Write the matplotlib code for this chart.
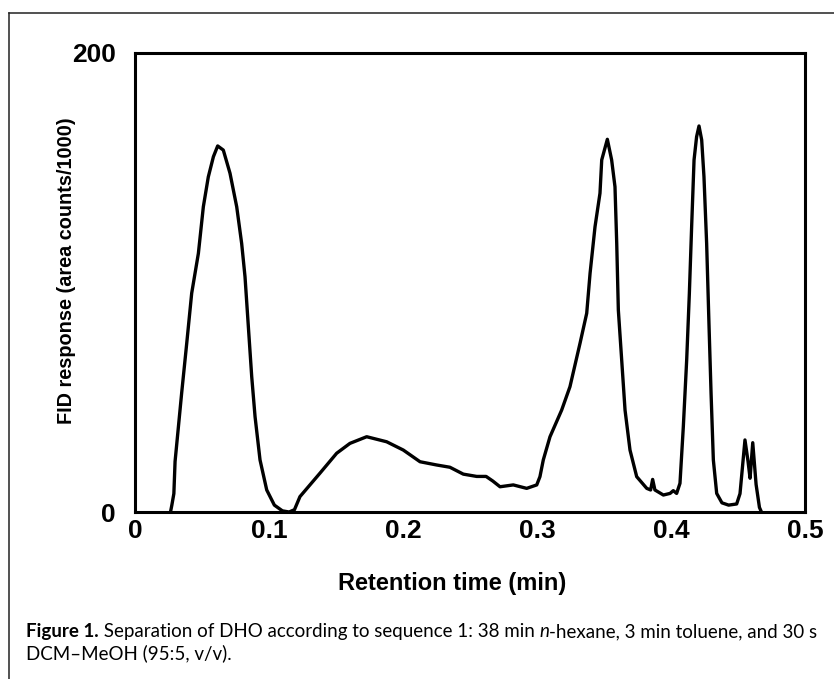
import numpy as np
import matplotlib.pyplot as plt
from matplotlib.lines import Line2D

# retention time (min) and FID response (area counts/1000)
time_min = [0.0265, 0.0275, 0.029, 0.0299, 0.0348, 0.0386, 0.0423, 0.0473, 0.051, 0.0547,
            0.0585, 0.0617, 0.0659, 0.0709, 0.0759, 0.0796, 0.0821, 0.0846, 0.0871, 0.0896,
            0.0933, 0.0983, 0.104, 0.11, 0.115, 0.119, 0.1231, 0.138, 0.1505, 0.1604,
            0.1729, 0.1878, 0.2002, 0.2127, 0.225, 0.235, 0.245, 0.255, 0.262, 0.267,
            0.2724, 0.2823, 0.2923, 0.2998, 0.3022, 0.3047, 0.3097, 0.3184, 0.3246, 0.3321,
            0.3371, 0.3396, 0.3433, 0.347, 0.3483, 0.3525, 0.3557, 0.3582, 0.3595, 0.3607,
            0.3632, 0.3657, 0.3694, 0.3744, 0.3819, 0.3848, 0.3863, 0.388, 0.3943, 0.3993,
            0.4017, 0.4042, 0.4067, 0.4092, 0.4117, 0.4137, 0.4154, 0.4172, 0.4191, 0.4209,
            0.4229, 0.4246, 0.4266, 0.4284, 0.4299, 0.4316, 0.4341, 0.438, 0.443, 0.449,
            0.4515, 0.4552, 0.4575, 0.459, 0.461, 0.4635, 0.466, 0.4675]
response = [0, 3, 8, 22, 51.7, 73.5, 95.3, 112.7, 133, 146,
            154.8, 159.5, 157.7, 147.6, 133, 117, 102.5, 80.7, 59, 41.5,
            22.7, 9.6, 3, 0.5, 0, 1, 6.7, 16.9, 25.6, 29.9,
            32.8, 30.6, 27, 21.9, 20.5, 19.5, 16.5, 15.5, 15.5, 13.5,
            11, 11.8, 10.3, 11.8, 15.4, 22.7, 32.8, 44.4, 54.6, 73.5,
            86.6, 104, 124.3, 138.9, 153.4, 162.4, 153.4, 141.7, 117, 88,
            66.2, 44.4, 27, 15.4, 10.3, 9.6, 14.2, 9.6, 7.4, 8.1,
            9.3, 8.1, 12.5, 37.2, 66.2, 95.3, 124.3, 153.4, 163.5, 168.2,
            162.1, 146.1, 117, 80.7, 51.7, 22.7, 8.1, 4, 3, 3.5,
            8, 31.4, 22, 14.7, 30.2, 12, 2, 0]

x_ticks = [0, 0.1, 0.2, 0.3, 0.4, 0.5]
x_ticklabels = ['0', '0.1', '0.2', '0.3', '0.4', '0.5']
y_ticks = [0, 200]

W, H = 834, 679
fig = plt.figure(figsize=(W / 100, H / 100), dpi=100)
ax = fig.add_axes([135 / W, 1 - 512 / H, 670 / W, 459 / H])

ax.plot(time_min, response, color='black', lw=2.4, solid_joinstyle='round')
ax.set_xlim(0, 0.5)
ax.set_ylim(0, 200)

ax.set_xticks(x_ticks)
ax.set_xticklabels(x_ticklabels)
ax.set_yticks(y_ticks)
ax.tick_params(length=0)
ax.tick_params(axis='x', pad=5)
ax.tick_params(axis='y', pad=14)
for lab in ax.get_xticklabels() + ax.get_yticklabels():
    lab.set_fontfamily('Liberation Sans')
    lab.set_fontweight('bold')
    lab.set_fontsize(19)
for s in ax.spines.values():
    s.set_linewidth(2.2)

ax.set_xlabel('Retention time (min)', fontfamily='Liberation Sans', fontweight='bold',
              fontsize=17, va='center')
ax.xaxis.set_label_coords(0.473, -0.1547)
ax.set_ylabel('FID response (area counts/1000)', fontfamily='Liberation Sans',
              fontweight='bold', fontsize=14.3, va='center')
ax.yaxis.set_label_coords(-0.1015, 0.525)

# outer frame (top and left edges only)
fig.add_artist(Line2D([9 / W, 9 / W], [0, 1 - 13 / H], transform=fig.transFigure,
                      color='#222222', lw=1.1))
fig.add_artist(Line2D([9 / W, 1], [1 - 13 / H, 1 - 13 / H], transform=fig.transFigure,
                      color='#222222', lw=1.1))

# caption, built piece by piece so the bold and italic parts sit on one baseline
renderer = fig.canvas.get_renderer()
cap_font = 'Lato'
cap_size = 13.5


def caption_line(pieces, x0, y):
    x = x0
    for txt, weight, style in pieces:
        t = fig.text(x, y, txt, fontfamily=cap_font, fontsize=cap_size, fontweight=weight,
                     fontstyle=style, va='baseline', ha='left')
        x += t.get_window_extent(renderer).width / W


caption_line([('Figure 1.', 'bold', 'normal'),
              (' Separation of DHO according to sequence 1: 38 min ', 'normal', 'normal'),
              ('n', 'normal', 'italic'),
              ('-hexane, 3 min toluene, and 30 s', 'normal', 'normal')],
             26 / W, 1 - 637 / H)
caption_line([('DCM\u2013MeOH (95:5, v/v).', 'normal', 'normal')], 26 / W, 1 - 659 / H)

fig.savefig('out.png', dpi=100)
